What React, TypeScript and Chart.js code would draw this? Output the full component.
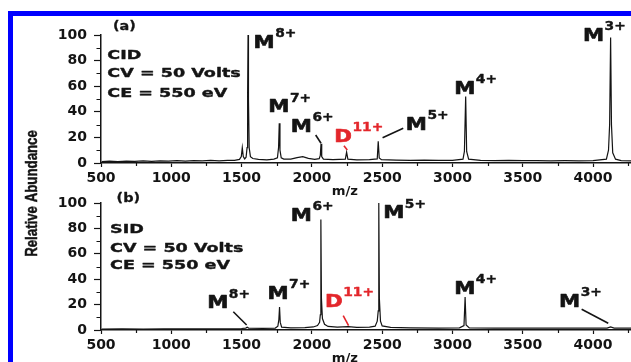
import React, { useEffect, useRef } from 'react';
import { Chart, registerables } from 'chart.js';

Chart.register(...registerables);

// ---------- data ----------
const mzA = [505, 560, 620, 680, 740, 800, 860, 920, 980, 1040, 1100, 1160, 1220, 1280, 1340, 1400, 1450, 1485, 1498, 1505, 1512, 1522, 1532, 1539, 1543, 1546, 1549, 1554, 1563, 1580, 1620, 1680, 1730, 1755, 1763, 1768, 1773, 1782, 1800, 1850, 1895, 1935, 1975, 2020, 2052, 2060, 2065, 2070, 2082, 2150, 2238, 2247, 2256, 2320, 2410, 2465, 2472, 2479, 2495, 2600, 2700, 2800, 2900, 3000, 3075, 3085, 3094, 3101, 3115, 3200, 3300, 3400, 3500, 3600, 3700, 3800, 3900, 4000, 4095, 4110, 4118, 4125, 4131, 4140, 4160, 4200, 4270];
const abundA = [1.0, 1.4, 1.1, 1.5, 1.2, 1.6, 1.3, 1.7, 1.4, 1.8, 1.5, 1.9, 1.6, 2.0, 1.7, 2.1, 2.0, 2.8, 5, 12, 5, 3.2, 4.5, 12, 55, 100, 50, 12, 5, 3.5, 2.8, 2.5, 3, 4, 12, 31, 10, 4, 3, 3, 4.2, 5, 3.6, 2.8, 3.4, 6, 15, 5, 3, 2.6, 3, 8.5, 3, 2.5, 2.6, 3.2, 17, 4, 2.6, 2.2, 2.0, 2.2, 2.0, 2.1, 3, 9, 52, 9, 3, 2.0, 1.8, 2.0, 1.8, 1.9, 1.7, 1.8, 1.7, 1.8, 3, 10, 30, 98, 30, 8, 3, 1.8, 1.7];

const mzB = [505, 650, 800, 950, 1100, 1250, 1400, 1500, 1530, 1540, 1550, 1650, 1740, 1758, 1765, 1770, 1775, 1785, 1850, 1950, 2010, 2040, 2055, 2060, 2064, 2068, 2075, 2090, 2115, 2180, 2258, 2320, 2410, 2450, 2465, 2472, 2476, 2480, 2488, 2500, 2560, 2700, 2900, 3050, 3082, 3090, 3097, 3120, 3300, 3600, 3900, 4100, 4125, 4150, 4270];
const abundB = [0.8, 0.9, 0.8, 0.9, 0.9, 1.0, 1.0, 1.2, 1.5, 2.2, 1.5, 1.3, 1.5, 3, 8, 18, 6, 2.2, 1.6, 1.9, 2.4, 3.5, 6, 12, 87, 25, 9, 4.5, 2.8, 2.2, 2.6, 2.0, 2.2, 3, 7, 15, 100, 25, 7, 3.2, 2.0, 1.6, 1.5, 1.7, 3.5, 26, 4, 1.7, 1.5, 1.4, 1.4, 1.5, 2.5, 1.5, 1.4];

const xTickValues = [500, 1000, 1500, 2000, 2500, 3000, 3500, 4000];
const xMinorTicks = [750, 1250, 1750, 2250, 2750, 3250, 3750, 4250];
const yTickValues = [0, 20, 40, 60, 80, 100];
const yMinorTicks = [10, 30, 50, 70, 90];

const X_MIN = 500;
const X_MAX = 4270;

const INK = '#141414';
const RED = '#e3262b';
const FONT = '"DejaVu Sans", sans-serif';

type Lbl = { base: string; sup: string; mz: number; v: number; color: string };
type Lead = { mz1: number; v1: number; mz2: number; v2: number; color: string };
type Info = { lines: string[]; mz: number; v: number[]; tag: string; tagMz: number; tagV: number };

const labelsA: Lbl[] = [
  { base: 'M', sup: '8+', mz: 1585, v: 90.2, color: INK },
  { base: 'M', sup: '7+', mz: 1690, v: 39.6, color: INK },
  { base: 'M', sup: '6+', mz: 1850, v: 24.5, color: INK },
  { base: 'D', sup: '11+', mz: 2160, v: 16.6, color: RED },
  { base: 'M', sup: '5+', mz: 2668, v: 25.8, color: INK },
  { base: 'M', sup: '4+', mz: 3012, v: 53.9, color: INK },
  { base: 'M', sup: '3+', mz: 3928, v: 95.5, color: INK },
];
const leadersA: Lead[] = [
  { mz1: 2027, v1: 21.9, mz2: 2065, v2: 15.4, color: INK },
  { mz1: 2228, v1: 13.5, mz2: 2252, v2: 10.2, color: RED },
  { mz1: 2503, v1: 19.8, mz2: 2650, v2: 27.1, color: INK },
];
const infoA: Info = { lines: ['CID', 'CV = 50 Volts', 'CE = 550 eV'], mz: 545, v: [81.3, 67.0, 51.8], tag: '(a)', tagMz: 585, tagV: 103.9 };

const labelsB: Lbl[] = [
  { base: 'M', sup: '8+', mz: 1255, v: 17.1, color: INK },
  { base: 'M', sup: '7+', mz: 1684, v: 24.7, color: INK },
  { base: 'M', sup: '6+', mz: 1850, v: 85.8, color: INK },
  { base: 'D', sup: '11+', mz: 2094, v: 18.3, color: RED },
  { base: 'M', sup: '5+', mz: 2507, v: 88.0, color: INK },
  { base: 'M', sup: '4+', mz: 3012, v: 28.3, color: INK },
  { base: 'M', sup: '3+', mz: 3758, v: 18.3, color: INK },
];
const leadersB: Lead[] = [
  { mz1: 1441, v1: 14.4, mz2: 1536, v2: 3.9, color: INK },
  { mz1: 2223, v1: 11.3, mz2: 2261, v2: 3.4, color: RED },
  { mz1: 3919, v1: 16.3, mz2: 4108, v2: 5.3, color: INK },
];
const infoB: Info = { lines: ['SID', 'CV = 50 Volts', 'CE = 550 eV'], mz: 564, v: [76.1, 61.7, 47.8], tag: '(b)', tagMz: 611, tagV: 100.8 };

const X_TITLE_MZ = 2235;

// ---------- drawing helpers ----------
function drawText(ctx: CanvasRenderingContext2D, text: string, x: number, y: number, font: string, sx: number, color: string, align: CanvasTextAlign = 'left', heavy = 0) {
  ctx.save();
  ctx.translate(x, y);
  ctx.scale(sx, 1);
  ctx.font = font;
  ctx.fillStyle = color;
  ctx.textAlign = align;
  ctx.textBaseline = 'alphabetic';
  ctx.fillText(text, 0, 0);
  if (heavy > 0) {
    ctx.strokeStyle = color;
    ctx.lineWidth = heavy;
    ctx.lineJoin = 'round';
    ctx.strokeText(text, 0, 0);
  }
  const w = ctx.measureText(text).width * sx;
  ctx.restore();
  return w;
}

function panelPlugin(id: string, labels: Lbl[], leaders: Lead[], info: Info, withYTitle: boolean) {
  return {
    id,
    afterDraw(chart: any) {
      const ctx: CanvasRenderingContext2D = chart.ctx;
      const area = chart.chartArea;
      const xs = chart.scales.x;
      const ys = chart.scales.y;
      ctx.save();
      // minor ticks
      ctx.strokeStyle = INK;
      ctx.lineWidth = 1.2;
      ctx.beginPath();
      for (const v of xMinorTicks) {
        if (v > X_MAX) continue;
        const px = Math.round(xs.getPixelForValue(v)) + 0.5;
        ctx.moveTo(px, area.bottom);
        ctx.lineTo(px, area.bottom + 3);
      }
      for (const v of yMinorTicks) {
        const py = Math.round(ys.getPixelForValue(v)) + 0.5;
        ctx.moveTo(area.left, py);
        ctx.lineTo(area.left - 4.5, py);
      }
      ctx.stroke();

      // leader lines
      ctx.lineWidth = 1.6;
      for (const l of leaders) {
        ctx.strokeStyle = l.color;
        ctx.beginPath();
        ctx.moveTo(xs.getPixelForValue(l.mz1), ys.getPixelForValue(l.v1));
        ctx.lineTo(xs.getPixelForValue(l.mz2), ys.getPixelForValue(l.v2));
        ctx.stroke();
      }

      // ion labels
      for (const l of labels) {
        const x = xs.getPixelForValue(l.mz);
        const y = ys.getPixelForValue(l.v);
        const w = drawText(ctx, l.base, x, y, `bold 17px ${FONT}`, 1.25, l.color, 'left', 0.6);
        drawText(ctx, l.sup, x + w + 0.5, y - 10.6, `bold 11.5px ${FONT}`, 1.2, l.color, 'left', 0.4);
      }

      // condition text
      drawText(ctx, info.tag, xs.getPixelForValue(info.tagMz), ys.getPixelForValue(info.tagV), `bold 12px ${FONT}`, 1.2, INK, 'left', 0.3);
      info.lines.forEach((t, i) => {
        drawText(ctx, t, xs.getPixelForValue(info.mz), ys.getPixelForValue(info.v[i]), `bold 13px ${FONT}`, 1.35, INK, 'left', 0.4);
      });

      // x title
      drawText(ctx, 'm/z', xs.getPixelForValue(X_TITLE_MZ), area.bottom + 32, `bold 12px ${FONT}`, 1.1, INK, 'center');

      // y title (shared)
      if (withYTitle) {
        ctx.save();
        ctx.translate(37, 193.5);
        ctx.rotate(-Math.PI / 2);
        ctx.scale(0.78, 1);
        ctx.font = `bold 17px "Liberation Sans Narrow", "Liberation Sans", sans-serif`;
        ctx.fillStyle = INK;
        ctx.strokeStyle = INK;
        ctx.lineWidth = 0.5;
        ctx.textAlign = 'center';
        ctx.textBaseline = 'alphabetic';
        ctx.fillText('Relative Abundance', 0, 0);
        ctx.strokeText('Relative Abundance', 0, 0);
        ctx.restore();
      }
      ctx.restore();
    },
  };
}

function makeConfig(mz: number[], abund: number[], padTop: number, padBottom: number, plugin: any): any {
  return {
    type: 'line',
    data: {
      datasets: [
        {
          data: mz.map((x, i) => ({ x, y: abund[i] })),
          borderColor: INK,
          borderWidth: 1.2,
          pointRadius: 0,
          tension: 0,
          fill: false,
          clip: false,
        },
      ],
    },
    options: {
      animation: false,
      responsive: false,
      devicePixelRatio: 1,
      layout: { padding: { top: padTop, bottom: padBottom, left: 0, right: 0 } },
      plugins: { legend: { display: false }, tooltip: { enabled: false }, title: { display: false } },
      scales: {
        x: {
          type: 'linear',
          min: X_MIN,
          max: X_MAX,
          afterBuildTicks: (s: any) => {
            s.ticks = xTickValues.map((value) => ({ value }));
          },
          afterFit: (s: any) => {
            s.height = 30;
          },
          ticks: {
            callback: (v: any) => String(v),
            font: { family: 'DejaVu Sans', size: 14, weight: 'bold' },
            color: INK,
            padding: 3,
            maxRotation: 0,
            autoSkip: false,
          },
          grid: { drawOnChartArea: false, drawTicks: true, tickLength: 4, tickColor: INK, tickWidth: 1.2 },
          border: { display: true, color: INK, width: 1.5 },
        },
        y: {
          type: 'linear',
          min: 0,
          max: 100,
          afterBuildTicks: (s: any) => {
            s.ticks = yTickValues.map((value) => ({ value }));
          },
          afterFit: (s: any) => {
            s.width = 101;
          },
          ticks: {
            callback: (v: any) => String(v),
            font: { family: 'DejaVu Sans', size: 14, weight: 'bold' },
            color: INK,
            padding: 7,
          },
          grid: { drawOnChartArea: false, drawTicks: true, tickLength: 7, tickColor: INK, tickWidth: 1.2 },
          border: { display: true, color: INK, width: 1.5 },
        },
      },
    },
    plugins: [plugin],
  };
}

export default function App() {
  const refA = useRef<HTMLCanvasElement | null>(null);
  const refB = useRef<HTMLCanvasElement | null>(null);

  useEffect(() => {
    if (!refA.current || !refB.current) return;
    const a = new Chart(refA.current, makeConfig(mzA, abundA, 35, 169, panelPlugin('panelA', labelsA, leadersA, infoA, true)));
    const b = new Chart(refB.current, makeConfig(mzB, abundB, 203, 2, panelPlugin('panelB', labelsB, leadersB, infoB, false)));
    return () => {
      a.destroy();
      b.destroy();
    };
  }, []);

  const canvasStyle: React.CSSProperties = { position: 'absolute', left: 0, top: 0, width: 631, height: 362, display: 'block' };

  return (
    <div style={{ position: 'absolute', left: 0, top: 0, width: 631, height: 362, overflow: 'hidden', background: '#ffffff' }}>
      <div
        style={{
          position: 'absolute',
          left: 8,
          top: 11,
          width: 700,
          height: 400,
          borderTop: '5px solid #0000ff',
          borderLeft: '5px solid #0000ff',
        }}
      />
      <canvas ref={refA} width={631} height={362} style={canvasStyle} />
      <canvas ref={refB} width={631} height={362} style={canvasStyle} />
    </div>
  );
}
